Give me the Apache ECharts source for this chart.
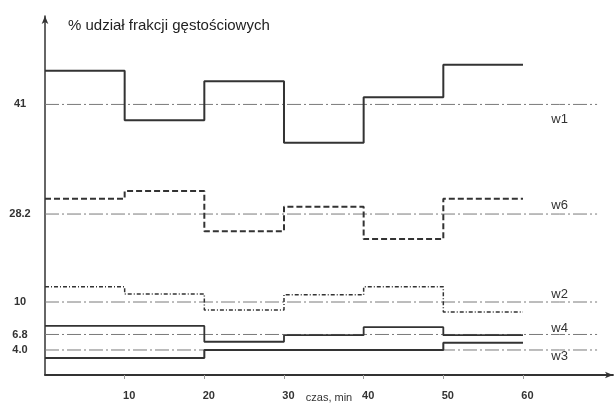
<!DOCTYPE html>
<html>
<head>
<meta charset="utf-8">
<script src="https://cdn.jsdelivr.net/npm/echarts@6/dist/echarts.min.js"></script>
<style>
  html, body { margin: 0; padding: 0; background: #fff; }
  #chart { width: 616px; height: 403px; }
</style>
</head>
<body>
<div id="chart"></div>
<script>
// Time axis: each fraction is sampled over 10-minute intervals from 0 to 60 min
const segmentStarts = [0, 10, 20, 30, 40, 50];
const segmentEnd = 60;
const xTickValues = [10, 20, 30, 40, 50, 60];

// Fraction names, their mean share (%) and the printed mean labels
const fractionNames = ['w1', 'w6', 'w2', 'w4', 'w3'];
const meanValues = [41, 28.2, 10, 6.8, 4.0];
const meanLabels = ['41', '28.2', '10', '6.8', '4.0'];

// Share (%) of each density fraction per interval
const w1 = [46.1, 38.6, 44.5, 35.2, 42.1, 47.0];
const w6 = [30.5, 31.7, 25.6, 29.3, 24.4, 30.5];
const w2 = [12.3, 11.2, 8.8, 11.1, 12.3, 8.5];
const w4 = [8.1, 8.1, 5.7, 6.7, 7.9, 6.7];
const w3 = [2.8, 2.8, 4.0, 4.0, 4.0, 5.1];
const fractionValues = [w1, w6, w2, w4, w3];

// The vertical axis is schematic: every fraction gets its own band,
// drawn with a common scale but its own lower bound.
const bandSpan = 54.4;
const bandFloor = [0, 3.81, -1.06, 0.66, 0.21];

// Drawing styles of the step lines and of the mean lines
const FONT = '"Liberation Sans", Arial, Helvetica, sans-serif';
const stepStyles = [
  { width: 2, type: 'solid' },
  { width: 2, type: [6, 3] },
  { width: 1.5, type: [4, 2, 1, 2] },
  { width: 1.8, type: 'solid' },
  { width: 2, type: 'solid' }
];
const meanLineStyle = { color: '#7a7a7a', width: 1, type: [14, 3, 2, 3] };
const meanLineEnd = 69.3;
const nameLabelX = 64.6;
const nameLabelOffsetY = [15, -8.5, -7.5, -6.5, 6.5];

function stepData(values) {
  const pts = segmentStarts.map((x, i) => [x, values[i]]);
  pts.push([segmentEnd, values[values.length - 1]]);
  return pts;
}

const yAxes = fractionNames.map((name, i) => ({
  type: 'value',
  position: 'left',
  offset: 0,
  min: bandFloor[i],
  max: bandFloor[i] + bandSpan,
  splitLine: { show: false },
  axisTick: { show: false },
  axisLine: i === 0 ? {
    show: true,
    onZero: false,
    symbol: ['none', 'arrow'],
    symbolSize: [5, 8],
    lineStyle: { color: '#333', width: 1.5 }
  } : { show: false },
  axisLabel: {
    customValues: [meanValues[i]],
    formatter: () => meanLabels[i],
    align: 'center',
    margin: 25,
    color: '#333',
    fontSize: 11,
    fontWeight: 'bold',
    fontFamily: FONT
  }
}));

const series = [];
fractionNames.forEach((name, i) => {
  // mean value line with the fraction name
  series.push({
    name: name + ' mean',
    type: 'line',
    yAxisIndex: i,
    silent: true,
    symbol: 'circle',
    symbolSize: 0.1,
    showSymbol: true,
    lineStyle: meanLineStyle,
    itemStyle: { color: 'rgba(0,0,0,0)' },
    label: { show: false },
    data: [
      [0, meanValues[i]],
      {
        value: [nameLabelX, meanValues[i]],
        label: {
          show: true,
          position: 'inside',
          offset: [0, nameLabelOffsetY[i]],
          formatter: name,
          color: '#333',
          fontSize: 13,
          fontFamily: FONT
        }
      },
      [meanLineEnd, meanValues[i]]
    ],
    z: 1
  });
  // measured share as a step line
  series.push({
    name: name,
    type: 'line',
    yAxisIndex: i,
    step: 'end',
    showSymbol: false,
    symbol: 'none',
    lineStyle: Object.assign({ color: '#333' }, stepStyles[i]),
    data: stepData(fractionValues[i]),
    z: 3
  });
});

const chart = echarts.init(document.getElementById('chart'), null, { renderer: 'canvas' });
chart.setOption({
  animation: false,
  backgroundColor: '#fff',
  title: {
    text: '% udział frakcji gęstościowych',
    left: 68,
    top: 18,
    padding: 0,
    textStyle: { color: '#222', fontSize: 15, fontWeight: 'normal', fontFamily: FONT }
  },
  grid: { left: 45, top: 16, right: 3, bottom: 28, containLabel: false, outerBoundsMode: 'none' },
  xAxis: {
    type: 'value',
    min: 0,
    max: 71.3,
    name: 'czas, min',
    nameLocation: 'middle',
    nameGap: 17,
    nameMoveOverlap: false,
    nameTextStyle: { color: '#333', fontSize: 11, fontFamily: FONT },
    splitLine: { show: false },
    axisLine: {
      onZero: false,
      symbol: ['none', 'arrow'],
      symbolSize: [5, 8],
      lineStyle: { color: '#333', width: 1.8 }
    },
    axisTick: {
      customValues: xTickValues,
      length: 4,
      lineStyle: { color: '#999', width: 1 }
    },
    axisLabel: {
      customValues: xTickValues,
      margin: 15,
      padding: [0, 0, 0, 9],
      color: '#333',
      fontSize: 11,
      fontWeight: 'bold',
      fontFamily: FONT
    }
  },
  yAxis: yAxes,
  series: series
});
</script>
</body>
</html>
